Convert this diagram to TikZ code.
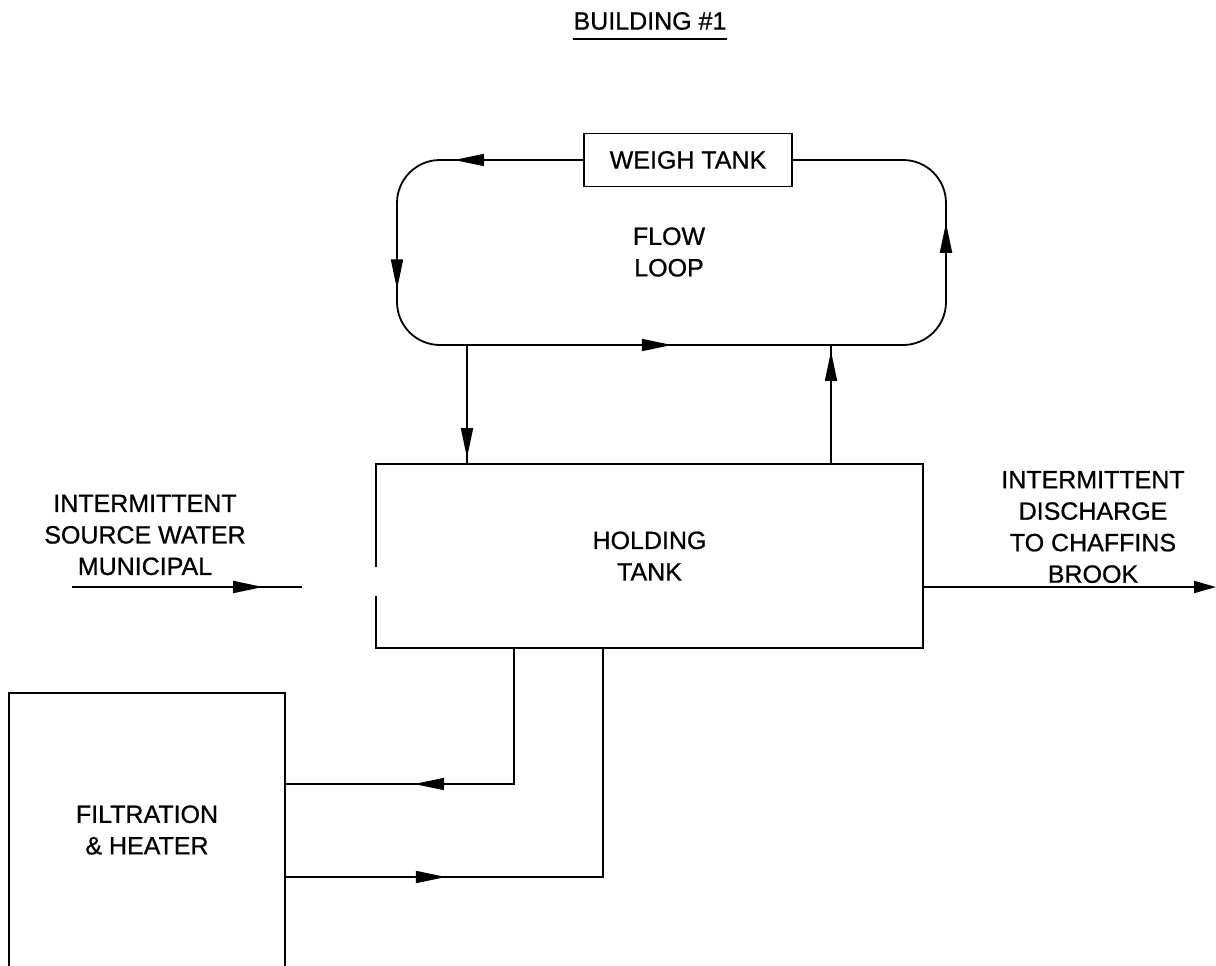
\documentclass[tikz,border=0pt]{standalone}
\usepackage{fontspec}
\setmainfont{Liberation Sans}
\newfontfamily\diagfont{Liberation Sans}[FakeBold=0.8]
\usetikzlibrary{arrows.meta,decorations.markings,calc}
\begin{document}
\begin{tikzpicture}[x=1pt,y=-1pt,
  line width=1.8pt,
  txt/.style={font=\diagfont\fontsize{25}{31.5}\selectfont, align=center, inner sep=0pt},
  box/.style={draw, line width=1.8pt, inner sep=0pt},
  flow/.style={postaction={decorate}, decoration={markings, mark=at position #1 with {\arrow{Triangle[length=30pt,width=12pt]}}}},
  loopflow/.style={postaction={decorate}, decoration={markings,
     mark=at position 129pt with {\arrow{Triangle[length=30pt,width=12pt]}},
     mark=at position 297pt with {\arrow{Triangle[length=30pt,width=12pt]}},
     mark=at position 609pt with {\arrow{Triangle[length=30pt,width=12pt]}},
     mark=at position 987pt with {\arrow{Triangle[length=30pt,width=12pt]}}}},
]
\useasboundingbox (0,0) rectangle (1216,966);
\clip (0,0) rectangle (1216,966);

% title
\node[txt] (title) at (650,21) {BUILDING \#1};
\draw ($(title.south west)+(0,8)$) -- ($(title.south east)+(0,8)$);

% weigh tank and flow loop
\node[box, txt, minimum width=208, minimum height=53] (wt) at (688,160) {WEIGH TANK};
\node[txt] (fl) at (669,252) {FLOW\\LOOP};
\coordinate (ltl) at (397,160);
\coordinate (lbl) at (397,345);
\coordinate (lbr) at (946,345);
\coordinate (ltr) at (946,160);
\draw[rounded corners=43, loopflow] (wt.west) -- (ltl) -- (lbl) -- (lbr) -- (ltr) -- (wt.east);

% holding tank
\node[box, txt, minimum width=547, minimum height=184] (ht) at (649.5,556) {HOLDING\\TANK};
\fill[white] ($(ht.north west)+(-3,104)$) rectangle ($(ht.north west)+(3,133)$);

\coordinate (lb1) at (467,345);
\coordinate (lb2) at (831,345);
\draw[flow=113pt] (lb1) -- (lb1 |- ht.north);
\draw[flow=112pt] (lb2 |- ht.north) -- (lb2);

% source water
\node[txt] (src) at (145,535) {INTERMITTENT\\SOURCE WATER\\MUNICIPAL};
\coordinate (s0) at (72,587);
\coordinate (s1) at (302,587);
\draw[flow=191pt] (s0) -- (s1);

% discharge
\node[txt] (dis) at (1093,527) {INTERMITTENT\\DISCHARGE\\TO CHAFFINS\\BROOK};
\coordinate (d1) at (1216,587);
\draw[-{Triangle[length=22pt,width=12pt]}] (ht.east |- d1) -- (d1);

% filtration & heater
\node[box, minimum width=276, minimum height=320] (fh) at (147,853) {};
\node[txt] (fht) at (147,830) {FILTRATION\\\& HEATER};
\coordinate (c1) at (514,784);
\coordinate (c2) at (603,877);
\draw[flow=235pt] (c1 |- ht.south) -- (c1) -- (fh.east |- c1);
\draw[flow=160pt] (fh.east |- c2) -- (c2) -- (c2 |- ht.south);
\end{tikzpicture}
\end{document}
